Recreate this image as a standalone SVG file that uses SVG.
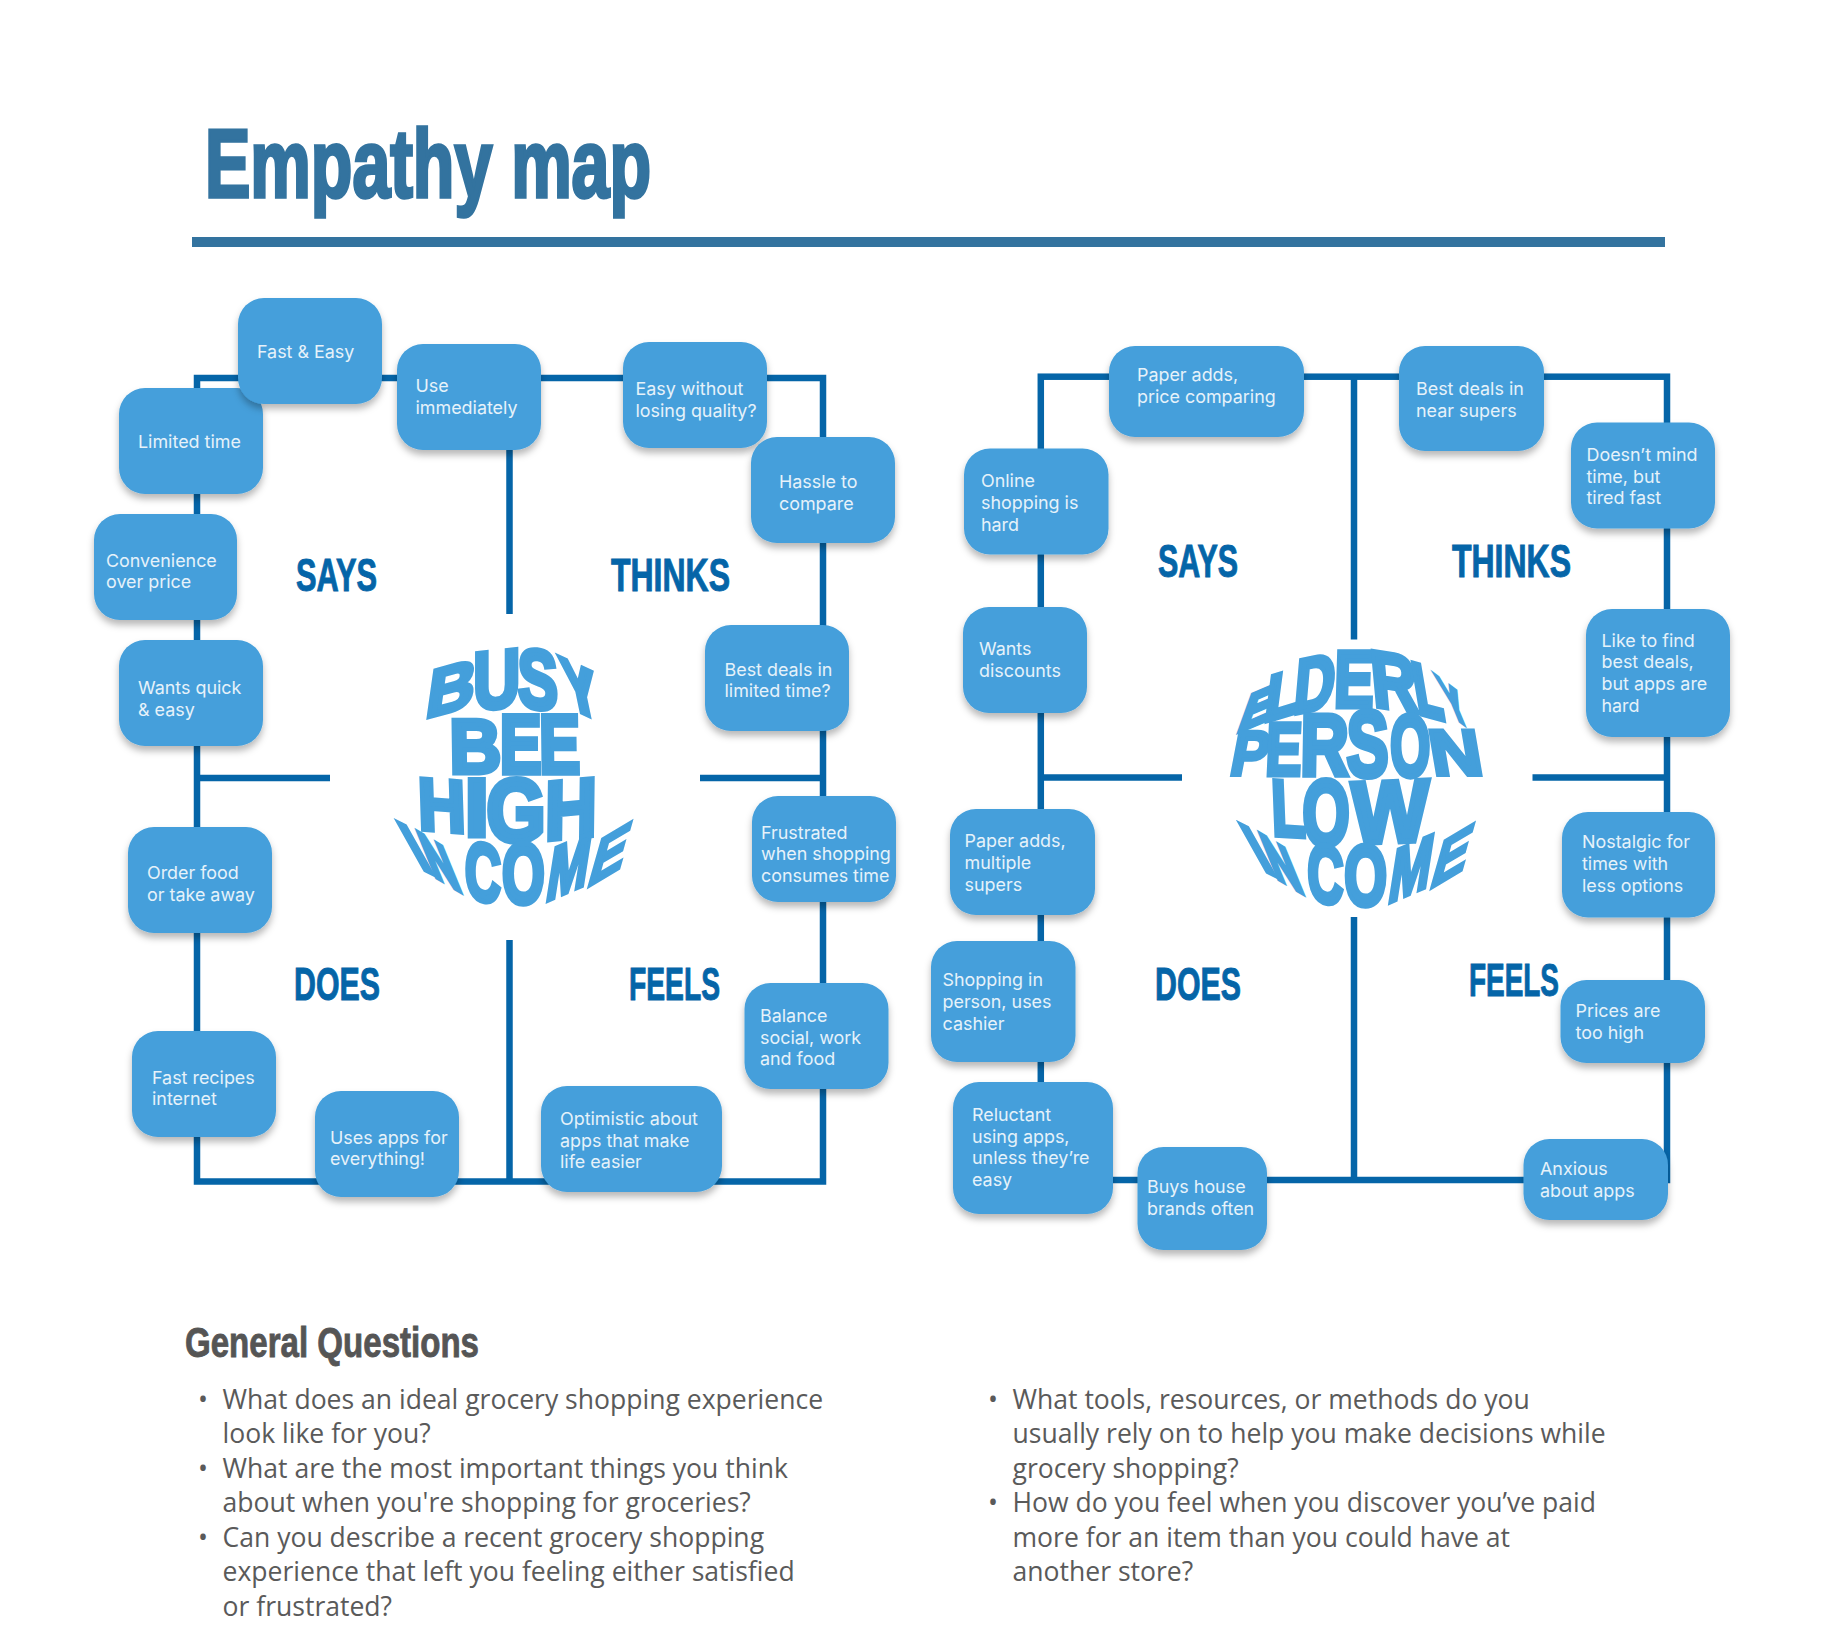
<svg xmlns="http://www.w3.org/2000/svg" width="1824" height="1648" viewBox="0 0 1824 1648">
<defs>
<filter id="sh" x="-20%" y="-20%" width="140%" height="150%"><feDropShadow dx="0" dy="5" stdDeviation="3.5" flood-color="#000" flood-opacity="0.28"/></filter>
</defs>
<style>
.node{fill:#449fdb;filter:url(#sh)}
.t{font-family:"Inter","Liberation Sans",sans-serif;font-size:17.9px;fill:#e6f2fa}
.frame{fill:none;stroke:#0565a8;stroke-width:6.5}
.h{font-family:"Liberation Sans",sans-serif;font-weight:700;font-size:46px;fill:#0565a8;stroke:#0565a8;stroke-width:1}
.w text{font-family:"Liberation Sans",sans-serif;font-weight:700;font-size:100px;text-anchor:middle;fill:#449fdb;stroke:#449fdb;stroke-width:6.5;stroke-linejoin:miter}
.w text.x{stroke-width:10}
.q{font-family:"Open Sans","Noto Sans",sans-serif;font-size:26.55px;fill:#5a5a5a}
</style>
<rect width="1824" height="1648" fill="#fff"/>
<g id="header">
<text x="205" y="197" font-family="Liberation Sans" font-weight="700" font-size="96" fill="#33739f" stroke="#33739f" stroke-width="3.5" textLength="446" lengthAdjust="spacingAndGlyphs">Empathy map</text>
<rect x="192" y="237" width="1473" height="10" fill="#33739f"/>
</g>
<g id="connectors">
<rect class="frame" x="197" y="378" width="626" height="803.5"/>
<path class="frame" d="M509.5 378V614M509.5 940V1181.5M197 778H330M700 778H823"/>
<rect class="frame" x="1040.8" y="376.7" width="626.2" height="803.3"/>
<path class="frame" d="M1354 376.7V639.5M1354 917V1180M1040.8 777.5H1182M1532.5 777.5H1667"/>
</g>
<g id="labels">
<text class="h" x="296" y="591" textLength="81" lengthAdjust="spacingAndGlyphs">SAYS</text>
<text class="h" x="611" y="591" textLength="119" lengthAdjust="spacingAndGlyphs">THINKS</text>
<text class="h" x="294" y="1000" textLength="86" lengthAdjust="spacingAndGlyphs">DOES</text>
<text class="h" x="629" y="1000" textLength="91" lengthAdjust="spacingAndGlyphs">FEELS</text>
<text class="h" x="1158" y="577" textLength="80" lengthAdjust="spacingAndGlyphs">SAYS</text>
<text class="h" x="1452" y="577" textLength="119" lengthAdjust="spacingAndGlyphs">THINKS</text>
<text class="h" x="1155" y="1000" textLength="86" lengthAdjust="spacingAndGlyphs">DOES</text>
<text class="h" x="1469" y="996" textLength="90" lengthAdjust="spacingAndGlyphs">FEELS</text>
</g>
<g id="wordart-left" class="w" transform="translate(360 620) scale(.33333)">
<text transform="matrix(2 -.55 -.29 2.05 265 276)">B</text>
<text transform="matrix(1.95 -.2 0 2.44 410 263)">U</text>
<text transform="matrix(1.8 .2 .04 2.5 535 265)">S</text>
<text class="x" transform="matrix(1.45 .68 .44 2.1 675 280)">Y</text>
<text transform="matrix(2.15 0 .03 2.3 347 460)">B</text>
<text transform="matrix(1.88 0 0 2.5 482 460)">E</text>
<text transform="matrix(1.84 0 .03 2.5 600 460)">E</text>
<text transform="matrix(1.98 .15 .07 2.22 248 633)">H</text>
<text transform="matrix(2.6 0 0 2.42 350 648)">I</text>
<text transform="matrix(2.28 0 0 2.68 468 662)">G</text>
<text transform="matrix(2.15 -.2 -.03 2.48 632 653)">H</text>
<text class="x" transform="matrix(1.6 .8 1.15 2.05 205 755)">I</text>
<text class="x" transform="matrix(1.25 .75 .8 1.95 265 793)">N</text>
<text transform="matrix(1.5 .3 -.03 2.45 368 842)">C</text>
<text transform="matrix(1.65 0 0 2.55 490 850)">O</text>
<text transform="matrix(1.5 -.65 -.36 2.3 615 820)">M</text>
<text transform="matrix(1.6 -.95 -.58 2.05 730 773)">E</text>
</g>
<g id="wordart-right" class="w" transform="translate(1200 620) scale(.33333)">
<text class="x" transform="matrix(1.4 -.6 -.58 1.6 155 318)">E</text>
<text class="x" transform="matrix(1.5 -.45 -.25 1.9 238 290)">L</text>
<text transform="matrix(1.68 -.35 -.2 2.32 338 270)">D</text>
<text transform="matrix(1.78 0 -.07 2.4 460 261)">E</text>
<text transform="matrix(1.9 .3 .22 2.4 590 268)">R</text>
<text class="x" transform="matrix(1.3 .35 .36 2.15 695 288)">L</text>
<text class="x" transform="matrix(1 .75 .73 1.75 785 308)">Y</text>
<text transform="matrix(1.66 0 -.36 1.88 140 466)">P</text>
<text transform="matrix(1.62 0 -.1 2.24 248 466)">E</text>
<text transform="matrix(2 0 -.04 2.6 372 466)">R</text>
<text transform="matrix(1.88 0 0 2.8 503 468)">S</text>
<text transform="matrix(1.55 0 .03 2.62 632 468)">O</text>
<text transform="matrix(2.14 0 .33 1.94 778 466)">N</text>
<text transform="matrix(1.65 .1 .09 2.38 268 648)">L</text>
<text transform="matrix(1.82 0 0 2.78 378 676)">O</text>
<text transform="matrix(2.45 -.1 0 2.62 570 666)">W</text>
<text class="x" transform="matrix(1.6 .8 1.15 2.05 212 760)">I</text>
<text class="x" transform="matrix(1.25 .75 .8 1.95 272 798)">N</text>
<text transform="matrix(1.5 .3 -.03 2.45 375 847)">C</text>
<text transform="matrix(1.65 0 0 2.55 497 855)">O</text>
<text transform="matrix(1.5 -.65 -.36 2.3 622 825)">M</text>
<text transform="matrix(1.6 -.95 -.58 2.05 737 778)">E</text>
</g>
<g id="n-limited"><rect class="node" x="119" y="388" width="144" height="106" rx="26"/><text class="t" x="138" y="448">Limited time</text></g>
<g id="n-fast"><rect class="node" x="238" y="298" width="144" height="106" rx="26"/><text class="t" x="257" y="358">Fast &amp; Easy</text></g>
<g id="n-use"><rect class="node" x="397" y="344" width="144" height="106" rx="26"/><text class="t"><tspan x="415.500" y="391.500">Use</tspan><tspan x="415.500" y="413.500">immediately</tspan></text></g>
<g id="n-easy"><rect class="node" x="623" y="342" width="144" height="106" rx="26"/><text class="t"><tspan x="635.500" y="395">Easy without</tspan><tspan x="635.500" y="417">losing quality?</tspan></text></g>
<g id="n-hassle"><rect class="node" x="751" y="437" width="144" height="106" rx="26"/><text class="t"><tspan x="779" y="488">Hassle to</tspan><tspan x="779" y="510">compare</tspan></text></g>
<g id="n-conv"><rect class="node" x="94" y="514" width="143" height="106" rx="26"/><text class="t"><tspan x="106" y="567">Convenience</tspan><tspan x="106" y="588">over price</tspan></text></g>
<g id="n-quick"><rect class="node" x="119" y="640" width="144" height="106" rx="26"/><text class="t"><tspan x="138" y="694">Wants quick</tspan><tspan x="138" y="716">&amp; easy</tspan></text></g>
<g id="n-deals"><rect class="node" x="705" y="625" width="144" height="106" rx="26"/><text class="t"><tspan x="724.500" y="676">Best deals in</tspan><tspan x="724.500" y="697">limited time?</tspan></text></g>
<g id="n-order"><rect class="node" x="128" y="827" width="144" height="106" rx="26"/><text class="t"><tspan x="147" y="879">Order food</tspan><tspan x="147" y="901">or take away</tspan></text></g>
<g id="n-recipes"><rect class="node" x="132" y="1031" width="144" height="106" rx="26"/><text class="t"><tspan x="152" y="1084">Fast recipes</tspan><tspan x="152" y="1105">internet</tspan></text></g>
<g id="n-uses"><rect class="node" x="315" y="1091" width="144" height="106" rx="26"/><text class="t"><tspan x="330" y="1144">Uses apps for</tspan><tspan x="330" y="1165">everything!</tspan></text></g>
<g id="n-optim"><rect class="node" x="541" y="1086" width="181" height="106" rx="26"/><text class="t"><tspan x="560" y="1125">Optimistic about</tspan><tspan x="560" y="1147">apps that make</tspan><tspan x="560" y="1168">life easier</tspan></text></g>
<g id="n-balance"><rect class="node" x="744.500" y="983" width="144" height="106" rx="26"/><text class="t"><tspan x="760" y="1022">Balance</tspan><tspan x="760" y="1044">social, work</tspan><tspan x="760" y="1065">and food</tspan></text></g>
<g id="n-frust"><rect class="node" x="752" y="796" width="144" height="106" rx="26"/><text class="t"><tspan x="761" y="839">Frustrated</tspan><tspan x="761" y="860">when shopping</tspan><tspan x="761" y="882">consumes time</tspan></text></g>
<g id="n-paper1"><rect class="node" x="1109" y="346" width="195" height="91" rx="26"/><text class="t"><tspan x="1137" y="381">Paper adds,</tspan><tspan x="1137" y="402.500">price comparing</tspan></text></g>
<g id="n-near"><rect class="node" x="1399" y="346" width="145" height="105" rx="26"/><text class="t"><tspan x="1416" y="395">Best deals in</tspan><tspan x="1416" y="417">near supers</tspan></text></g>
<g id="n-mind"><rect class="node" x="1571" y="422.500" width="144" height="106" rx="26"/><text class="t"><tspan x="1586.500" y="461">Doesn’t mind</tspan><tspan x="1586.500" y="482.500">time, but</tspan><tspan x="1586.500" y="504">tired fast</tspan></text></g>
<g id="n-online"><rect class="node" x="964" y="448.500" width="144.500" height="106" rx="26"/><text class="t"><tspan x="981" y="487">Online</tspan><tspan x="981" y="509">shopping is</tspan><tspan x="981" y="531">hard</tspan></text></g>
<g id="n-disc"><rect class="node" x="963" y="607" width="124" height="106" rx="26"/><text class="t"><tspan x="979" y="655">Wants</tspan><tspan x="979" y="677">discounts</tspan></text></g>
<g id="n-like"><rect class="node" x="1586" y="609" width="144" height="128" rx="26"/><text class="t"><tspan x="1601.500" y="647">Like to find</tspan><tspan x="1601.500" y="668">best deals,</tspan><tspan x="1601.500" y="690">but apps are</tspan><tspan x="1601.500" y="712">hard</tspan></text></g>
<g id="n-paper2"><rect class="node" x="950" y="809" width="145" height="106" rx="26"/><text class="t"><tspan x="964.500" y="847">Paper adds,</tspan><tspan x="964.500" y="869">multiple</tspan><tspan x="964.500" y="891">supers</tspan></text></g>
<g id="n-shop"><rect class="node" x="931" y="941" width="144.500" height="121" rx="26"/><text class="t"><tspan x="942.500" y="986">Shopping in</tspan><tspan x="942.500" y="1008">person, uses</tspan><tspan x="942.500" y="1030">cashier</tspan></text></g>
<g id="n-reluct"><rect class="node" x="953" y="1082" width="160" height="132" rx="26"/><text class="t"><tspan x="972" y="1121">Reluctant</tspan><tspan x="972" y="1143">using apps,</tspan><tspan x="972" y="1164">unless they’re</tspan><tspan x="972" y="1186">easy</tspan></text></g>
<g id="n-buys"><rect class="node" x="1137.500" y="1147" width="129.500" height="103" rx="26"/><text class="t"><tspan x="1147" y="1193">Buys house</tspan><tspan x="1147" y="1215">brands often</tspan></text></g>
<g id="n-anx"><rect class="node" x="1523.500" y="1139" width="144.500" height="81" rx="26"/><text class="t"><tspan x="1540" y="1175">Anxious</tspan><tspan x="1540" y="1197">about apps</tspan></text></g>
<g id="n-prices"><rect class="node" x="1560.500" y="980" width="144.500" height="83" rx="26"/><text class="t"><tspan x="1575.500" y="1017">Prices are</tspan><tspan x="1575.500" y="1039">too high</tspan></text></g>
<g id="n-nost"><rect class="node" x="1562" y="812" width="153" height="105.500" rx="26"/><text class="t"><tspan x="1582" y="848">Nostalgic for</tspan><tspan x="1582" y="870">times with</tspan><tspan x="1582" y="892">less options</tspan></text></g>
<g id="questions">
<text x="185" y="1357" font-family="Liberation Sans" font-weight="700" font-size="43" fill="#555" stroke="#555" stroke-width=".9" textLength="294" lengthAdjust="spacingAndGlyphs">General Questions</text>
<text class="q"><tspan x="198" y="1409">•</tspan><tspan x="198" y="1478">•</tspan><tspan x="198" y="1547">•</tspan></text>
<text class="q"><tspan x="222.500" y="1409">What does an ideal grocery shopping experience</tspan><tspan x="222.500" y="1443">look like for you?</tspan><tspan x="222.500" y="1478">What are the most important things you think</tspan><tspan x="222.500" y="1512">about when you're shopping for groceries?</tspan><tspan x="222.500" y="1547">Can you describe a recent grocery shopping</tspan><tspan x="222.500" y="1581">experience that left you feeling either satisfied</tspan><tspan x="222.500" y="1616">or frustrated?</tspan></text>
<text class="q"><tspan x="988" y="1409">•</tspan><tspan x="988" y="1512">•</tspan></text>
<text class="q"><tspan x="1012.500" y="1409">What tools, resources, or methods do you</tspan><tspan x="1012.500" y="1443">usually rely on to help you make decisions while</tspan><tspan x="1012.500" y="1478">grocery shopping?</tspan><tspan x="1012.500" y="1512">How do you feel when you discover you’ve paid</tspan><tspan x="1012.500" y="1547">more for an item than you could have at</tspan><tspan x="1012.500" y="1581">another store?</tspan></text>
</g>
</svg>
